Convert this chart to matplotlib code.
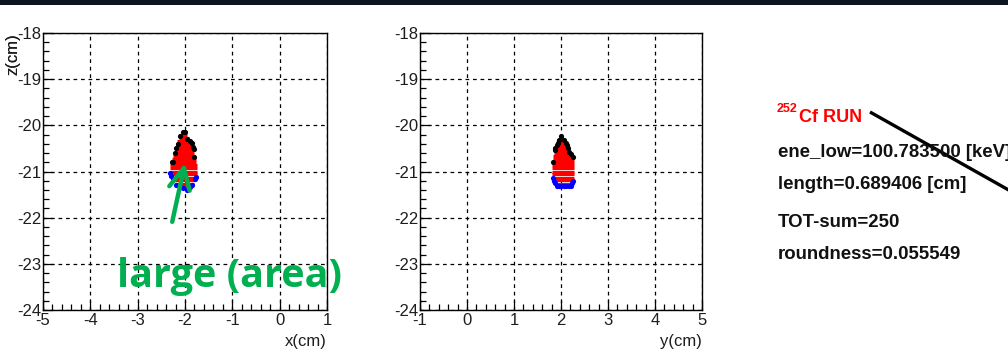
import matplotlib
matplotlib.use("Agg")
import matplotlib.pyplot as plt
from matplotlib.patches import Rectangle
from matplotlib.lines import Line2D
from matplotlib.ticker import MultipleLocator

plt.rcParams["axes.unicode_minus"] = False

# ---- cluster hits, x-z projection ----
xz_row_z = [-20.15, -20.22, -20.28, -20.35, -20.41, -20.48, -20.54, -20.61, -20.67,
            -20.74, -20.80, -20.87, -20.93, -21.00, -21.06, -21.13, -21.19, -21.26, -21.32]
xz_row_xmin = [-2.06, -2.10, -2.13, -2.16, -2.18, -2.20, -2.22, -2.24, -2.26,
               -2.28, -2.30, -2.31, -2.32, -2.32, -2.31, -2.29, -2.26, -2.22, -2.16]
xz_row_xmax = [-2.00, -1.96, -1.92, -1.89, -1.87, -1.85, -1.83, -1.81, -1.79,
               -1.77, -1.76, -1.75, -1.74, -1.74, -1.74, -1.76, -1.78, -1.82, -1.88]
xz_top_x = [-2.05, -1.99, -2.10, -1.95, -1.90, -1.86, -1.84, -1.82, -1.80,
            -2.14, -2.18, -2.21, -2.28, -2.25]
xz_top_z = [-20.15, -20.15, -20.24, -20.30, -20.34, -20.38, -20.46, -20.52, -20.68,
            -20.40, -20.50, -20.59, -20.79, -20.79]
xz_bot_x = [-2.32, -2.29, -2.26, -2.18, -2.11, -2.04, -1.96, -1.90, -1.86, -1.79, -1.76]
xz_bot_z = [-21.04, -21.10, -21.16, -21.29, -21.33, -21.36, -21.40, -21.33, -21.29, -21.16, -21.12]

# ---- cluster hits, y-z projection ----
yz_row_z = [-20.28, -20.35, -20.41, -20.48, -20.54, -20.61, -20.67, -20.74, -20.80,
            -20.87, -20.93, -21.00, -21.06, -21.13, -21.19, -21.26]
yz_row_ymin = [1.99, 1.96, 1.93, 1.90, 1.88, 1.86, 1.84, 1.83, 1.82,
               1.81, 1.81, 1.81, 1.81, 1.82, 1.84, 1.88]
yz_row_ymax = [2.05, 2.09, 2.13, 2.16, 2.19, 2.22, 2.25, 2.27, 2.28,
               2.28, 2.28, 2.28, 2.28, 2.28, 2.26, 2.22]
yz_top_y = [2.01, 1.96, 2.06, 1.93, 2.10, 1.91, 2.12, 1.88, 2.15, 1.87, 2.18, 2.22, 2.26, 1.82]
yz_top_z = [-20.24, -20.32, -20.32, -20.38, -20.38, -20.43, -20.43, -20.50, -20.50,
            -20.54, -20.57, -20.62, -20.68, -20.79]
yz_bot_y = [1.82, 1.85, 1.88, 1.91, 1.96, 2.01, 2.06, 2.11, 2.16, 2.21, 2.24, 2.26]
yz_bot_z = [-21.15, -21.20, -21.24, -21.31, -21.31, -21.31, -21.31, -21.31, -21.31,
            -21.31, -21.24, -21.20]

x_range = (-5, 1)
y_range = (-1, 5)
z_range = (-24, -18)

info_title_sup = "252"
info_title = "Cf RUN"
info_lines = ["ene_low=100.783500 [keV]", "length=0.689406 [cm]",
              "TOT-sum=250", "roundness=0.055549"]
info_baselines_px = [157, 189, 227, 259]

W, H = 1008, 352
fig = plt.figure(figsize=(W / 100, H / 100), dpi=100)
fig.patch.set_facecolor("white")
FONT = "Liberation Sans"
TXT = "#1e1e1e"


def fx(px):
    return px / W


def fy(py):
    return 1 - py / H


# dark slide band along the top edge
fig.add_artist(Rectangle((0, fy(5)), 1, 5 / H, transform=fig.transFigure,
                         facecolor="#0c1420", edgecolor="none", zorder=0))


def panel(left_px, width_px, xlim, xlabel, rows_z, rows_lo, rows_hi,
          top_a, top_z, bot_a, bot_z):
    ax = fig.add_axes([fx(left_px), fy(310), width_px / W, 277 / H])
    ax.set_xlim(*xlim)
    ax.set_ylim(*z_range)
    ax.xaxis.set_major_locator(MultipleLocator(1))
    ax.xaxis.set_minor_locator(MultipleLocator(0.2))
    ax.yaxis.set_major_locator(MultipleLocator(1))
    ax.yaxis.set_minor_locator(MultipleLocator(0.2))
    ax.tick_params(which="both", direction="in", top=False, right=False,
                   colors="black", labelcolor=TXT, labelsize=12)
    ax.tick_params(which="major", length=7, width=0.9)
    ax.tick_params(which="minor", length=4, width=0.9)
    ax.tick_params(axis="y", pad=1)
    ax.tick_params(axis="x", pad=2)
    for lab in ax.get_xticklabels() + ax.get_yticklabels():
        lab.set_fontfamily(FONT)
    ax.grid(True, which="major", color="black", linestyle=(0, (3, 3)), linewidth=0.9)
    for s in ax.spines.values():
        s.set_linewidth(1.0)
        s.set_color("black")

    ax.hlines(rows_z, rows_lo, rows_hi, colors="#ff0000", linewidth=2.3, zorder=3)
    ax.scatter(top_a, top_z, s=14, color="black", linewidths=0, zorder=4)
    ax.scatter(bot_a, bot_z, s=14, color="#0000ff", linewidths=0, zorder=4)

    ax.set_xlabel(xlabel, fontfamily=FONT, fontsize=12, color=TXT)
    ax.xaxis.set_label_coords(1.0, -0.085)
    ax.xaxis.label.set_horizontalalignment("right")
    ax.set_ylabel("z(cm)", fontfamily=FONT, fontsize=12, color=TXT)
    ax.yaxis.set_label_coords(-(left_px - 13) / width_px, 1.0)
    ax.yaxis.label.set_verticalalignment("center")
    ax.yaxis.label.set_horizontalalignment("right")
    return ax


ax1 = panel(43, 284, x_range, "x(cm)", xz_row_z, xz_row_xmin, xz_row_xmax,
            xz_top_x, xz_top_z, xz_bot_x, xz_bot_z)
ax2 = panel(420, 282, y_range, "y(cm)", yz_row_z, yz_row_ymin, yz_row_ymax,
            yz_top_y, yz_top_z, yz_bot_y, yz_bot_z)

# green annotation on the x-z view
GREEN = "#00b050"
ax1.annotate("", xy=(-2.0, -20.82), xytext=(-2.27, -22.09),
             arrowprops=dict(arrowstyle="->,head_length=1.5,head_width=0.75",
                             color=GREEN, lw=3.2, mutation_scale=10,
                             shrinkA=0, shrinkB=0), zorder=6)
fig.text(fx(117), fy(287), "large (area)", fontfamily="Open Sans", fontweight="bold",
         fontsize=28.5, color=GREEN, ha="left", va="baseline", zorder=7)

# run information block
fig.text(fx(777), fy(112), info_title_sup, fontfamily=FONT, fontweight="bold",
         fontsize=9, color="#ff0000", ha="left", va="baseline")
fig.text(fx(799), fy(122), info_title, fontfamily=FONT, fontweight="bold",
         fontsize=13, color="#ff0000", ha="left", va="baseline")
for line, base in zip(info_lines, info_baselines_px):
    fig.text(fx(778), fy(base), line, fontfamily=FONT, fontweight="bold",
             fontsize=13.4, color="#111111", ha="left", va="baseline")

fig.add_artist(Line2D([fx(870), fx(1030)], [fy(112), fy(202)],
                      transform=fig.transFigure, color="black", linewidth=2.4,
                      solid_capstyle="butt"))

fig.savefig("out.png", dpi=100)
